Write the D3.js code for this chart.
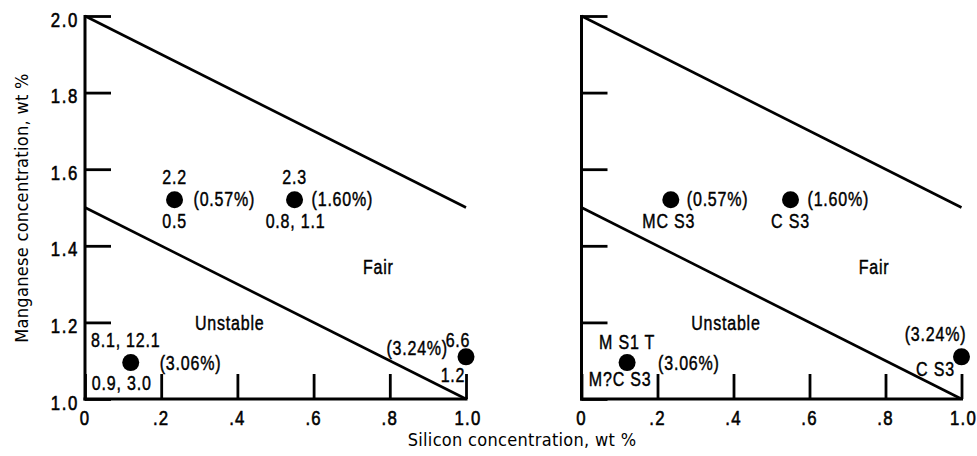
<!DOCTYPE html>
<html>
<head>
<meta charset="utf-8">
<script src="https://cdn.jsdelivr.net/npm/d3@7"></script>
<style>
  html, body { margin: 0; padding: 0; background: #fff; }
  svg { display: block; }
  text { fill: #000; }
</style>
</head>
<body>
<svg id="chart" width="977" height="456"></svg>
<script>
// ---------- data ----------
const xTicks = [0, 0.2, 0.4, 0.6, 0.8, 1.0];
const xTickLabels = ["0", ".2", ".4", ".6", ".8", "1.0"];
const yTicks = [1.0, 1.2, 1.4, 1.6, 1.8, 2.0];
const yTickLabels = ["1.0", "1.2", "1.4", "1.6", "1.8", "2.0"];

// boundary lines (Si, Mn)
const upperLine = [[0, 2.0], [1.0, 1.5]];
const lowerLine = [[0, 1.5], [1.0, 1.0]];

// alloy points
const siValues = [0.235, 0.55, 0.12, 1.0];
const mnValues = [1.52, 1.52, 1.095, 1.11];
const sulfurLabels = ["(0.57%)", "(1.60%)", "(3.06%)", "(3.24%)"];
// left panel: upper and lower annotations
const leftTopLabels = ["2.2", "2.3", "8.1, 12.1", "6.6"];
const leftBottomLabels = ["0.5", "0.8, 1.1", "0.9, 3.0", "1.2"];
// right panel annotations
const rightTopLabels = ["", "", "M S1 T", ""];
const rightBottomLabels = ["MC S3", "C S3", "M?C S3", "C S3"];

// region labels
const regionNames = ["Fair", "Unstable"];
const regionSi = [0.77, 0.38];
const regionMn = [1.345, 1.2];

const xTitle = "Silicon concentration, wt %";
const yTitle = "Manganese concentration, wt %";

// ---------- layout ----------
const svg = d3.select("#chart");
svg.append("rect").attr("width", 977).attr("height", 456).attr("fill", "#fff");

const yScale = d3.scaleLinear().domain([1, 2]).range([399, 16]);
const panels = [
  { x: d3.scaleLinear().domain([0, 1]).range([85, 466]), left: true },
  { x: d3.scaleLinear().domain([0, 1]).range([581.5, 961.5]), left: false }
];

// label offsets (pixels) relative to a point: [dx, dy, anchor]
const leftTopOff = [[0, -23, "middle"], [0, -23, "middle"], [-5, -23, "middle"], [-8, -17, "middle"]];
const leftBotOff = [[0, 21, "middle"], [1, 21, "middle"], [-9, 20, "middle"], [-13, 18, "middle"]];
const sulfurOffLeft = [[19, -1, "start"], [17, -1, "start"], [29, 0, "start"], [-18, -9, "end"]];
const sulfurOffRight = [[16, -1, "start"], [17, -1, "start"], [31, 0, "start"], [-26, -23, "middle"]];
const rightTopOff = [[0, 0, "middle"], [0, 0, "middle"], [0, -21, "middle"], [0, 0, "middle"]];
const rightBotOff = [[-2, 21, "middle"], [0, 21, "middle"], [-7, 16, "middle"], [-26, 12, "middle"]];

const FS = 20;
const SX = 0.8;

function label(g, px, py, txt, anchor, size, ls, sw) {
  return g.append("text")
    .attr("transform", `translate(${px},${py}) scale(${SX},1)`)
    .attr("dy", "0.36em")
    .attr("text-anchor", anchor)
    .attr("font-family", "'Liberation Sans', Arial, sans-serif")
    .attr("font-size", size)
    .attr("letter-spacing", ls)
    .attr("stroke", "#000").attr("stroke-width", sw || 0.45)
    .text(txt);
}

panels.forEach((p, pi) => {
  const g = svg.append("g");
  const x = p.x;

  // Axes lines
  g.append("line").attr("x1", x(0)).attr("x2", x(0)).attr("y1", yScale(2.0) - 1).attr("y2", yScale(1.0) + 1.5)
    .attr("stroke", "#000").attr("stroke-width", 3);
  g.append("line").attr("x1", x(0) - 1.5).attr("x2", x(1.0) + 1.5).attr("y1", yScale(1.0)).attr("y2", yScale(1.0))
    .attr("stroke", "#000").attr("stroke-width", 3);

  // y axis ticks (inward)
  const yAxis = d3.axisLeft(yScale)
    .tickValues(yTicks)
    .tickSizeInner(-26).tickSizeOuter(0)
    .tickFormat("");
  const ya = g.append("g").attr("transform", `translate(${x(0)},0)`).call(yAxis);
  ya.select(".domain").remove();
  ya.selectAll(".tick line").attr("stroke", "#000").attr("stroke-width", 2.8);
  ya.selectAll(".tick text").remove();
  if (p.left) {
    yTicks.forEach((v, i) => label(g, x(0) - 6, yScale(v) + 3, yTickLabels[i], "end", 21, 2, 0.6));
  }

  // x axis ticks (inward)
  const xAxis = d3.axisBottom(x)
    .tickValues(xTicks)
    .tickSizeInner(-25).tickSizeOuter(0)
    .tickFormat("");
  const xa = g.append("g").attr("transform", `translate(0,${yScale(1.0)})`).call(xAxis);
  xa.select(".domain").remove();
  xa.selectAll(".tick line").attr("stroke", "#000").attr("stroke-width", 2.8);
  xa.selectAll(".tick text").remove();
  xTicks.forEach((v, i) => label(g, x(v) + (v === 1 ? 2 : 0), yScale(1.0) + 18, xTickLabels[i], "middle", 21, 1.5, 0.6));

  // boundary lines
  const line = d3.line().x(d => x(d[0])).y(d => yScale(d[1]));
  [upperLine, lowerLine].forEach(L => {
    g.append("path").attr("d", line(L)).attr("fill", "none").attr("stroke", "#000").attr("stroke-width", 2.6);
  });

  // points
  g.selectAll("circle.pt").data(siValues).enter().append("circle")
    .attr("class", "pt")
    .attr("cx", d => x(d)).attr("cy", (d, i) => yScale(mnValues[i])).attr("r", 8.5).attr("fill", "#000");

  const addText = (txt, i, off) => {
    if (!txt) return;
    label(g, x(siValues[i]) + off[0], yScale(mnValues[i]) + off[1], txt, off[2], FS, 1);
  };

  sulfurLabels.forEach((t, i) => addText(t, i, p.left ? sulfurOffLeft[i] : sulfurOffRight[i]));
  if (p.left) {
    leftTopLabels.forEach((t, i) => addText(t, i, leftTopOff[i]));
    leftBottomLabels.forEach((t, i) => addText(t, i, leftBotOff[i]));
  } else {
    rightTopLabels.forEach((t, i) => addText(t, i, rightTopOff[i]));
    rightBottomLabels.forEach((t, i) => addText(t, i, rightBotOff[i]));
  }

  regionNames.forEach((t, i) => {
    label(g, x(regionSi[i]), yScale(regionMn[i]), t, "middle", FS, 1);
  });
});

// axis titles
svg.append("text").attr("x", 522).attr("y", 440).attr("dy", "0.36em").attr("text-anchor", "middle")
  .attr("font-family", "'DejaVu Sans Condensed', 'DejaVu Sans', sans-serif")
  .attr("font-size", 18).attr("letter-spacing", 0.3).text(xTitle);
svg.append("text").attr("transform", "translate(22,208) rotate(-90)").attr("dy", "0.36em").attr("text-anchor", "middle")
  .attr("font-family", "'DejaVu Sans Condensed', 'DejaVu Sans', sans-serif")
  .attr("font-size", 18).attr("letter-spacing", 0.3).text(yTitle);
</script>
</body>
</html>
